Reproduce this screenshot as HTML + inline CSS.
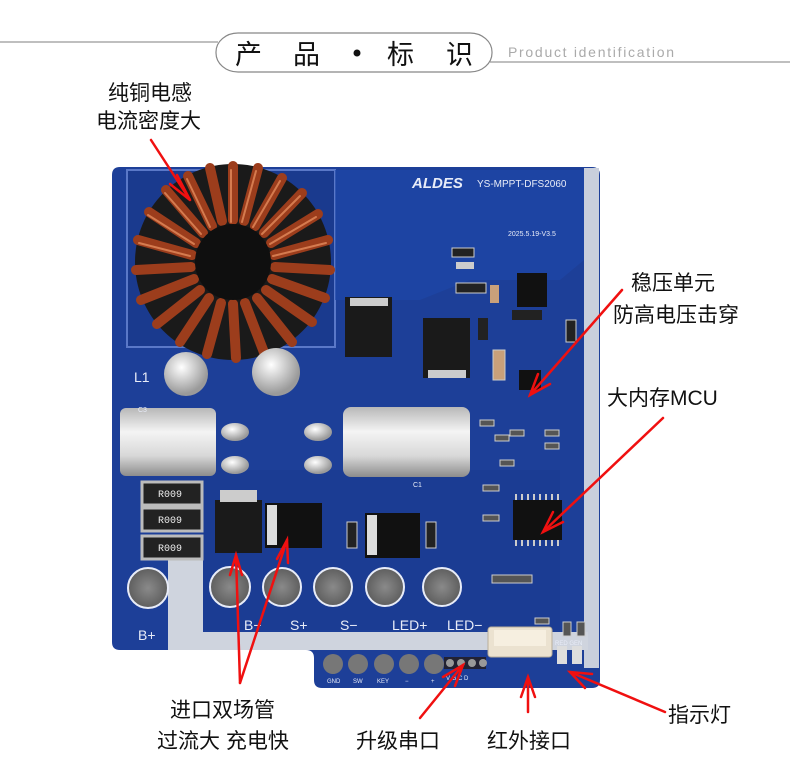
<!DOCTYPE html>
<html><head><meta charset="utf-8"><style>
html,body{margin:0;padding:0;background:#fff;}
svg{display:block}
.cn{font-family:"Liberation Sans","Noto Sans CJK SC",sans-serif;fill:#111;}
.pl{font-family:"Liberation Sans",sans-serif;fill:#e8ecf8;}
</style></head><body>
<svg width="790" height="780" viewBox="0 0 790 780" xmlns="http://www.w3.org/2000/svg">
<defs>
<linearGradient id="cap" x1="0" y1="0" x2="0" y2="1">
<stop offset="0" stop-color="#b8b8b8"/><stop offset="0.35" stop-color="#f4f4f4"/><stop offset="0.7" stop-color="#d8d8d8"/><stop offset="1" stop-color="#8c8c8c"/></linearGradient>
<radialGradient id="pad" cx="0.5" cy="0.5" r="0.5"><stop offset="0" stop-color="#8a8a8a"/><stop offset="1" stop-color="#5e5e5e"/></radialGradient>
<radialGradient id="blob" cx="0.4" cy="0.35" r="0.6"><stop offset="0" stop-color="#ffffff"/><stop offset="1" stop-color="#9a9a9a"/></radialGradient>
</defs>
<!-- header -->
<line x1="0" y1="42" x2="218" y2="42" stroke="#999" stroke-width="1.2"/>
<line x1="490" y1="62" x2="790" y2="62" stroke="#999" stroke-width="1.2"/>
<rect x="216" y="33" width="276" height="39" rx="22" ry="19" fill="#fff" stroke="#888" stroke-width="1.2"/>
<text x="235" y="64" class="cn" font-size="27">产</text>
<text x="293" y="64" class="cn" font-size="27">品</text>
<circle cx="357" cy="53" r="3.5" fill="#111"/>
<text x="387" y="64" class="cn" font-size="27">标</text>
<text x="446" y="64" class="cn" font-size="27">识</text>
<text x="508" y="57" font-family="Liberation Sans Narrow,Liberation Sans,sans-serif" font-size="14" fill="#aaa" textLength="166">Product identification</text>

<!-- board -->
<path d="M120 167 H592 Q600 167 600 175 V680 Q600 688 592 688 H322 Q314 688 314 680 V658 Q314 650 306 650 H120 Q112 650 112 642 V175 Q112 167 120 167 Z" fill="#1d3f98"/>
<rect x="584" y="168" width="15" height="500" fill="#c9cfdc"/>
<path d="M127 170 H335 V347 H127 Z" fill="#1a3a8e" stroke="#5a78c8" stroke-width="2"/>
<path d="M335 170 H584 V260 L560 280 H470 L420 300 H335 Z" fill="#1e47a8" opacity="0.7"/>
<rect x="200" y="470" width="360" height="160" fill="#1b3b90" opacity="0.6"/>
<!-- silver strips -->
<rect x="168" y="560" width="35" height="90" fill="#cfd4de"/>
<rect x="168" y="632" width="420" height="18" fill="#cfd4de"/>

<!-- inductor -->
<circle cx="233" cy="262" r="98" fill="#1a1a1a"/>
<g stroke="#9c3d1c" stroke-width="10" stroke-linecap="round" fill="none" id="coils">
<line x1="233" y1="220" x2="233" y2="166"/>
<line x1="244" y1="221" x2="258" y2="168"/>
<line x1="255" y1="226" x2="282" y2="178"/>
<line x1="264" y1="233" x2="302" y2="193"/>
<line x1="271" y1="243" x2="318" y2="214"/>
<line x1="274" y1="255" x2="328" y2="240"/>
<line x1="275" y1="267" x2="330" y2="270"/>
<line x1="272" y1="279" x2="325" y2="298"/>
<line x1="266" y1="290" x2="312" y2="322"/>
<line x1="257" y1="298" x2="292" y2="342"/>
<line x1="245" y1="303" x2="265" y2="355"/>
<line x1="233" y1="304" x2="236" y2="358"/>
<line x1="221" y1="303" x2="207" y2="354"/>
<line x1="209" y1="298" x2="180" y2="342"/>
<line x1="200" y1="290" x2="157" y2="324"/>
<line x1="194" y1="279" x2="141" y2="300"/>
<line x1="191" y1="267" x2="136" y2="270"/>
<line x1="192" y1="255" x2="138" y2="240"/>
<line x1="196" y1="243" x2="149" y2="212"/>
<line x1="203" y1="233" x2="166" y2="190"/>
<line x1="212" y1="226" x2="188" y2="176"/>
<line x1="222" y1="221" x2="210" y2="168"/>
</g>
<g stroke="#e89060" stroke-width="2" stroke-linecap="round" fill="none" opacity="0.75">
<line x1="231" y1="222" x2="231" y2="170"/><line x1="242" y1="222" x2="256" y2="171"/><line x1="253" y1="227" x2="280" y2="181"/><line x1="262" y1="234" x2="300" y2="196"/>
<line x1="270" y1="244" x2="316" y2="217"/><line x1="210" y1="227" x2="187" y2="179"/><line x1="201" y1="234" x2="165" y2="193"/><line x1="194" y1="244" x2="148" y2="215"/>
<line x1="190" y1="256" x2="139" y2="243"/><line x1="273" y1="256" x2="326" y2="243"/>
</g>
<circle cx="233" cy="262" r="38" fill="#0f0f0f"/>
<circle cx="186" cy="374" r="22" fill="url(#blob)"/>
<circle cx="276" cy="372" r="24" fill="url(#blob)"/>
<text x="134" y="382" class="pl" font-size="14">L1</text>

<!-- logo -->
<text x="412" y="188" font-family="Liberation Sans,sans-serif" font-style="italic" font-weight="bold" font-size="15" fill="#e8ecf8">ALDES</text>
<text x="477" y="187" class="pl" font-size="10">YS-MPPT-DFS2060</text>
<text x="508" y="236" class="pl" font-size="7">2025.5.19-V3.5</text>

<!-- upper components -->
<rect x="345" y="297" width="47" height="60" fill="#1a1a1a"/><rect x="350" y="298" width="38" height="8" fill="#ccc"/>
<rect x="423" y="318" width="47" height="60" fill="#1a1a1a"/><rect x="428" y="370" width="38" height="8" fill="#ccc"/>
<rect x="517" y="273" width="30" height="34" fill="#111"/>
<rect x="452" y="248" width="22" height="9" fill="#222" stroke="#ccc"/>
<rect x="456" y="262" width="18" height="7" fill="#ccc"/>
<rect x="456" y="283" width="30" height="10" fill="#222" stroke="#ccc"/>
<rect x="490" y="285" width="9" height="18" fill="#c9a07a"/>
<rect x="512" y="310" width="30" height="10" fill="#222"/>
<rect x="519" y="370" width="22" height="20" fill="#111"/>
<rect x="493" y="350" width="12" height="30" fill="#c9a07a" stroke="#ccc"/>
<rect x="478" y="318" width="10" height="22" fill="#222"/>
<rect x="566" y="320" width="10" height="22" fill="#222" stroke="#ccc"/>

<!-- capacitors -->
<rect x="120" y="408" width="96" height="68" rx="6" fill="url(#cap)"/>
<rect x="343" y="407" width="127" height="70" rx="8" fill="url(#cap)"/>
<ellipse cx="235" cy="432" rx="14" ry="9" fill="url(#blob)"/>
<ellipse cx="235" cy="465" rx="14" ry="9" fill="url(#blob)"/>
<ellipse cx="318" cy="432" rx="14" ry="9" fill="url(#blob)"/>
<ellipse cx="318" cy="465" rx="14" ry="9" fill="url(#blob)"/>
<text x="138" y="412" class="pl" font-size="7">C3</text>
<text x="413" y="487" class="pl" font-size="7">C1</text>

<!-- R009 resistors -->
<g font-family="Liberation Mono,monospace" font-size="10" fill="#eee">
<rect x="142" y="482" width="60" height="23" fill="#222" stroke="#bbb" stroke-width="3"/><text x="158" y="497">R009</text>
<rect x="142" y="508" width="60" height="23" fill="#222" stroke="#bbb" stroke-width="3"/><text x="158" y="523">R009</text>
<rect x="142" y="536" width="60" height="23" fill="#222" stroke="#bbb" stroke-width="3"/><text x="158" y="551">R009</text>
</g>
<!-- mosfets -->
<rect x="215" y="500" width="47" height="53" fill="#1a1a1a"/><rect x="220" y="490" width="37" height="12" fill="#ccc"/>
<rect x="265" y="503" width="57" height="45" fill="#111"/><rect x="267" y="505" width="10" height="40" fill="#ddd"/>
<rect x="365" y="513" width="55" height="45" fill="#111"/><rect x="367" y="515" width="10" height="40" fill="#ddd"/>
<rect x="426" y="522" width="10" height="26" fill="#222" stroke="#ccc"/>
<rect x="347" y="522" width="10" height="26" fill="#222" stroke="#ccc"/>
<!-- MCU -->
<rect x="513" y="500" width="49" height="40" fill="#111"/>
<g stroke="#ccc" stroke-width="2">
<line x1="516" y1="494" x2="516" y2="500"/><line x1="522" y1="494" x2="522" y2="500"/><line x1="528" y1="494" x2="528" y2="500"/><line x1="534" y1="494" x2="534" y2="500"/><line x1="540" y1="494" x2="540" y2="500"/><line x1="546" y1="494" x2="546" y2="500"/><line x1="552" y1="494" x2="552" y2="500"/><line x1="558" y1="494" x2="558" y2="500"/>
<line x1="516" y1="540" x2="516" y2="546"/><line x1="522" y1="540" x2="522" y2="546"/><line x1="528" y1="540" x2="528" y2="546"/><line x1="534" y1="540" x2="534" y2="546"/><line x1="540" y1="540" x2="540" y2="546"/><line x1="546" y1="540" x2="546" y2="546"/><line x1="552" y1="540" x2="552" y2="546"/><line x1="558" y1="540" x2="558" y2="546"/>
</g>
<g fill="#555" stroke="#ccc" stroke-width="1">
<rect x="480" y="420" width="14" height="6"/><rect x="510" y="430" width="14" height="6"/><rect x="545" y="430" width="14" height="6"/><rect x="545" y="443" width="14" height="6"/>
<rect x="495" y="435" width="14" height="6"/><rect x="500" y="460" width="14" height="6"/><rect x="483" y="485" width="16" height="6"/><rect x="483" y="515" width="16" height="6"/>
<rect x="492" y="575" width="40" height="8"/><rect x="535" y="618" width="14" height="6"/><rect x="512" y="628" width="32" height="7"/>
<rect x="563" y="622" width="8" height="14"/><rect x="577" y="622" width="8" height="14"/>
</g>
<!-- pads -->
<g stroke="#e8ecf8" stroke-width="2">
<circle cx="148" cy="588" r="20" fill="url(#pad)"/>
<circle cx="230" cy="587" r="20" fill="url(#pad)"/>
<circle cx="282" cy="587" r="19" fill="url(#pad)"/>
<circle cx="333" cy="587" r="19" fill="url(#pad)"/>
<circle cx="385" cy="587" r="19" fill="url(#pad)"/>
<circle cx="442" cy="587" r="19" fill="url(#pad)"/>
</g>
<g class="pl" font-size="14">
<text x="138" y="640">B+</text><text x="244" y="630">B−</text><text x="290" y="630">S+</text><text x="340" y="630">S−</text><text x="392" y="630">LED+</text><text x="447" y="630">LED−</text>
</g>
<g fill="#777">
<circle cx="333" cy="664" r="10"/><circle cx="358" cy="664" r="10"/><circle cx="384" cy="664" r="10"/><circle cx="409" cy="664" r="10"/><circle cx="434" cy="664" r="10"/>
</g>
<rect x="444" y="657" width="42" height="12" fill="#223"/>
<g fill="#999"><circle cx="450" cy="663" r="4"/><circle cx="461" cy="663" r="4"/><circle cx="472" cy="663" r="4"/><circle cx="483" cy="663" r="4"/></g>
<g class="pl" font-size="6"><text x="327" y="683">GND</text><text x="353" y="683">SW</text><text x="377" y="683">KEY</text><text x="405" y="683">−</text><text x="431" y="683">+</text><text x="446" y="680">V G C D</text></g>
<!-- white connector -->
<rect x="488" y="627" width="64" height="30" rx="3" fill="#ebe2d0" stroke="#b8ae9a"/>
<rect x="494" y="630" width="52" height="16" fill="#f6efe0"/>
<rect x="557" y="646" width="10" height="18" fill="#ddd"/>
<rect x="572" y="646" width="10" height="18" fill="#ddd"/>
<text x="555" y="645" class="pl" font-size="6">RED GEN</text>

<!-- labels -->
<g class="cn" font-size="21">
<text x="108" y="100">纯铜电感</text>
<text x="96" y="128">电流密度大</text>
<text x="631" y="290">稳压单元</text>
<text x="613" y="322">防高电压击穿</text>
<text x="607" y="405">大内存MCU</text>
<text x="170" y="717">进口双场管</text>
<text x="157" y="748">过流大 充电快</text>
<text x="356" y="748">升级串口</text>
<text x="487" y="748">红外接口</text>
<text x="668" y="722">指示灯</text>
</g>

<!-- arrows -->
<g stroke="#f01010" stroke-width="2.5" fill="none" stroke-linecap="round">
<line x1="151" y1="140" x2="190" y2="200"/><polyline points="177,175 190,200 170,184"/>
<line x1="622" y1="290" x2="530" y2="395"/><polyline points="538,374 530,395 550,384"/>
<line x1="663" y1="418" x2="543" y2="532"/><polyline points="553,512 543,532 563,522"/>
<line x1="240" y1="683" x2="236" y2="555"/><polyline points="230,575 236,555 242,575"/>
<line x1="240" y1="683" x2="287" y2="540"/><polyline points="277,559 287,540 288,563"/>
<line x1="420" y1="718" x2="463" y2="665"/><polyline points="443,677 463,665 455,686"/>
<line x1="528" y1="712" x2="528" y2="677"/><polyline points="521,697 528,677 535,697"/>
<line x1="665" y1="712" x2="570" y2="672"/><polyline points="585,688 570,672 592,674"/>
</g>
</svg>
</body></html>
